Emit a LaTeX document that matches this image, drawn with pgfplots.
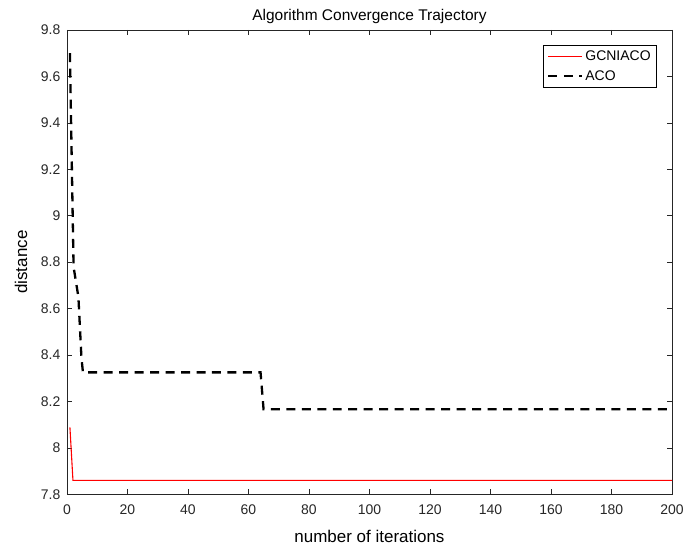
\documentclass[border=0pt]{standalone}
\usepackage{pgfplots}
\pgfplotsset{compat=1.18}
\usepackage{fontspec}
\setmainfont{Liberation Sans}
\definecolor{axgray}{rgb}{0.15,0.15,0.15}
\begin{document}
\begin{tikzpicture}
\begin{axis}[
  scale only axis,
  width=606bp, height=465bp,
  xmin=0, xmax=200, ymin=7.8, ymax=9.8,
  xtick={0,20,...,200},
  ytick={7.8,8,8.2,8.4,8.6,8.8,9,9.2,9.4,9.6,9.8},
  yticklabels={7.8,8,8.2,8.4,8.6,8.8,9,9.2,9.4,9.6,9.8},
  xticklabels={0,20,40,60,80,100,120,140,160,180,200},
  tick align=inside,
  major tick length=5bp,
  axis line style={axgray, line width=0.5bp},
  every tick/.style={axgray, line width=0.5bp},
  tick label style={font=\fontsize{14bp}{16bp}\selectfont, text=axgray},
  xticklabel style={yshift=-7bp},
  yticklabel style={xshift=-3bp},
  every axis x label/.style={at={(axis description cs:0.5,0)}, anchor=center, yshift=-42bp,
    font=\fontsize{17bp}{19bp}\selectfont, text=black},
  every axis y label/.style={at={(axis description cs:-0.0759,0.5)}, anchor=center, rotate=90,
    font=\fontsize{17bp}{19bp}\selectfont, text=black},
  every axis title/.style={at={(axis description cs:0.5,1)}, anchor=center, yshift=13bp,
    font=\fontsize{15.5bp}{18bp}\selectfont, text=black},
  title={Algorithm Convergence Trajectory},
  xlabel={number of iterations},
  ylabel={distance},
  legend style={at={(0.975,0.968)}, anchor=north east, line width=0.5bp,
    font=\fontsize{14bp}{16bp}\selectfont, inner xsep=4bp, inner ysep=4bp, row sep=4bp},
  legend cell align=left,
  legend image code/.code={\draw[mark repeat=2,mark phase=2,#1] plot coordinates {(0bp,0bp) (17bp,0bp) (34bp,0bp)};},
]
\addplot[color=red, line width=1.1bp] coordinates {
(1,8.088) (2,7.86) (200,7.86)
};
\addlegendentry{GCNIACO}
\addplot[color=black, line width=2.3bp, dash pattern=on 9bp off 6.5bp] coordinates {
(1,9.70) (2.2,8.78) (3.8,8.65) (4.8,8.39) (5.3,8.325) (64,8.325) (65,8.166) (200,8.166)
};
\addlegendentry{ACO}
\end{axis}
\path (current axis.south west) ++(-67bp,-55bp) coordinate (bl);
\path (current axis.north east) ++(14bp,30bp) coordinate (tr);
\useasboundingbox (bl) rectangle (tr);
\end{tikzpicture}
\end{document}
